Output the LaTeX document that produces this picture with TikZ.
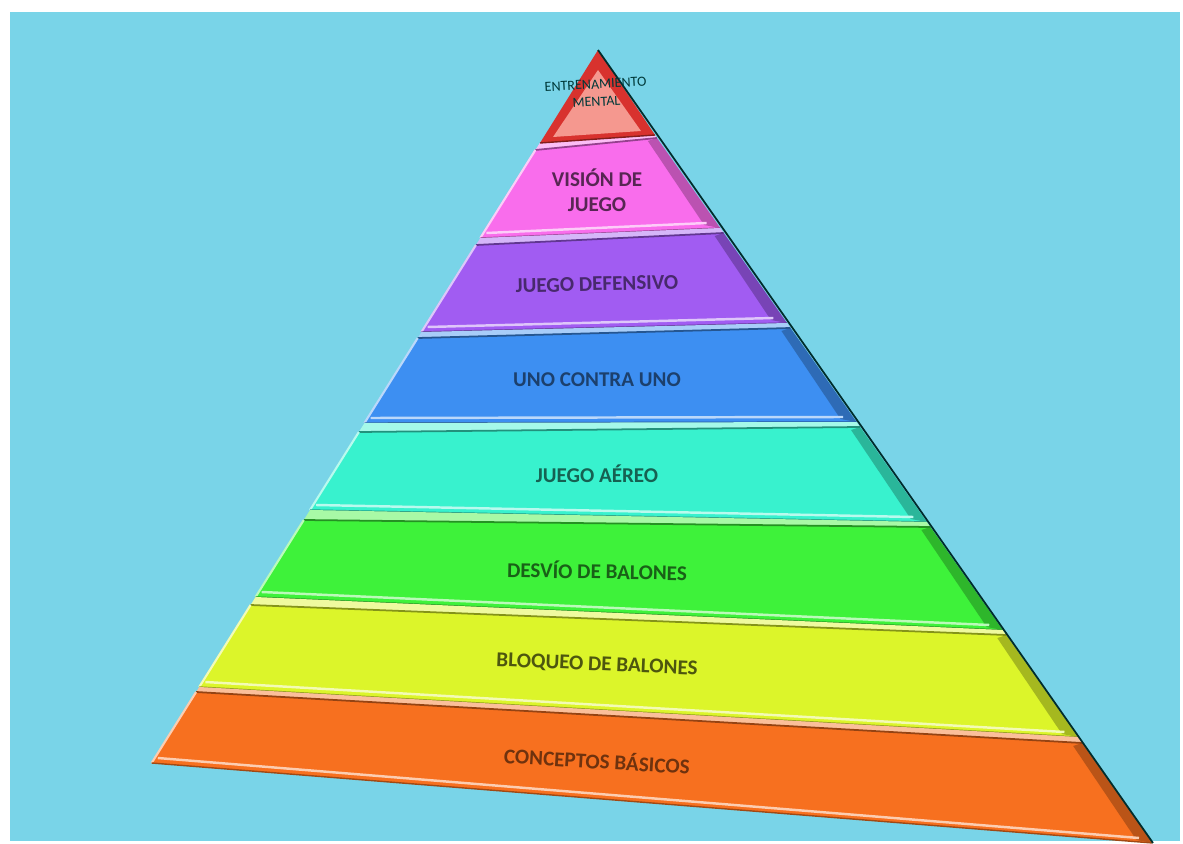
\documentclass[tikz,border=0pt]{standalone}
\usepackage{fontspec}
\setmainfont{Carlito}
\definecolor{bgblue}{HTML}{79D4E8}
\definecolor{tipred}{HTML}{D8322E}
\definecolor{tipsalmon}{HTML}{F5988F}
\definecolor{visionpink}{HTML}{F96DEC}
\definecolor{defpurple}{HTML}{A15CF2}
\definecolor{unoblue}{HTML}{3D8FF2}
\definecolor{aereoaqua}{HTML}{38F2CE}
\definecolor{desviogreen}{HTML}{3EF23A}
\definecolor{bloqyellow}{HTML}{DCF52A}
\definecolor{baseorange}{HTML}{F7701F}
% left and right edge of the pyramid (pixel units, y downwards)
\def\pyrL#1{598-0.626*(#1-50)}
\def\pyrR#1{595+0.703*(#1-50)}
\begin{document}
\begin{tikzpicture}[x=0.02cm,y=-0.02cm,
  layertext/.style={font=\fontsize{12}{14}\selectfont\bfseries, align=center, inner sep=0pt}]
  \useasboundingbox (0,0) rectangle (1183,844);
  \fill[white] (0,0) rectangle (1183,844);
  \fill[bgblue] (10,12) rectangle (1180,841);

  % layers: strip top (l/r), body top (l/r), bottom (l/r), colour
  \foreach \st/\sr/\bt/\br/\lo/\ro/\col in {
      143/135/150/138/238/228/visionpink,
      238/228/245/233/332/323/defpurple,
      332/323/338/328/423/422/unoblue,
      423/422/432/427/510/522/aereoaqua,
      510/522/520/527/597/630/desviogreen,
      597/630/605/635/687/737/bloqyellow,
      687/737/692/743/763/843/baseorange}{
    \fill[\col!45!white] ({\pyrL{\st}},\st) -- ({\pyrR{\sr}},\sr) -- ({\pyrR{\br}},\br) -- ({\pyrL{\bt}},\bt) -- cycle;
    \fill[\col] ({\pyrL{\bt}},\bt) -- ({\pyrR{\br}},\br) -- ({\pyrR{\ro}},\ro) -- ({\pyrL{\lo}},\lo) -- cycle;
    % shadow on the right side
    \fill[\col!55!black, opacity=0.55] ({\pyrR{\br}},\br) -- ({\pyrR{\ro}},\ro) -- ({\pyrR{\ro}-16},\ro-3) -- ({\pyrR{\br}-9},\br+3) -- cycle;
    \draw[\col!60!black, line width=1pt] ({\pyrL{\bt}},\bt) -- ({\pyrR{\br}},\br);
    \draw[\col!35!white, line width=1.2pt] ({\pyrL{\bt}},\bt) -- ({\pyrL{\lo}},\lo);
    \draw[\col!35!white, line width=1.4pt] ({\pyrL{\lo-5}+3},\lo-5) -- ({\pyrR{\ro-5}-10},\ro-5);
    \draw[\col!65!black, line width=0.8pt] ({\pyrL{\lo}},\lo) -- ({\pyrR{\ro}},\ro);
  }

  % top triangle
  \fill[tipred] (598,50) -- (655,135) -- (540,143) -- cycle;
  \fill[tipsalmon] (598,70) -- (641,131) -- (553,137) -- cycle;
  \draw[tipred!60!black, line width=0.8pt] (540,143) -- (655,135);

  % outline of the right edge
  \draw[black!65!teal, line width=1pt] (598,50) -- (1153,843);

  % labels
  \node[layertext, font=\fontsize{8}{10}\selectfont, text=black!55!teal, rotate=3] (mental) at (596,93) {ENTRENAMIENTO\\MENTAL};
  \node[layertext, text=visionpink!35!black] (vision) at (597,190) {VISIÓN DE\\JUEGO};
  \node[layertext, text=defpurple!45!black, rotate=1.5] (defensivo) at (597,284) {JUEGO DEFENSIVO};
  \node[layertext, text=unoblue!45!black] (uno) at (597,380) {UNO CONTRA UNO};
  \node[layertext, text=aereoaqua!40!black] (aereo) at (597,474) {JUEGO AÉREO};
  \node[layertext, text=desviogreen!40!black, rotate=-1] (desvio) at (597,570) {DESVÍO DE BALONES};
  \node[layertext, text=bloqyellow!35!black, rotate=-2.5] (bloqueo) at (597,665) {BLOQUEO DE BALONES};
  \node[layertext, text=baseorange!45!black, rotate=-3.5] (basicos) at (597,760) {CONCEPTOS BÁSICOS};
\end{tikzpicture}
\end{document}
